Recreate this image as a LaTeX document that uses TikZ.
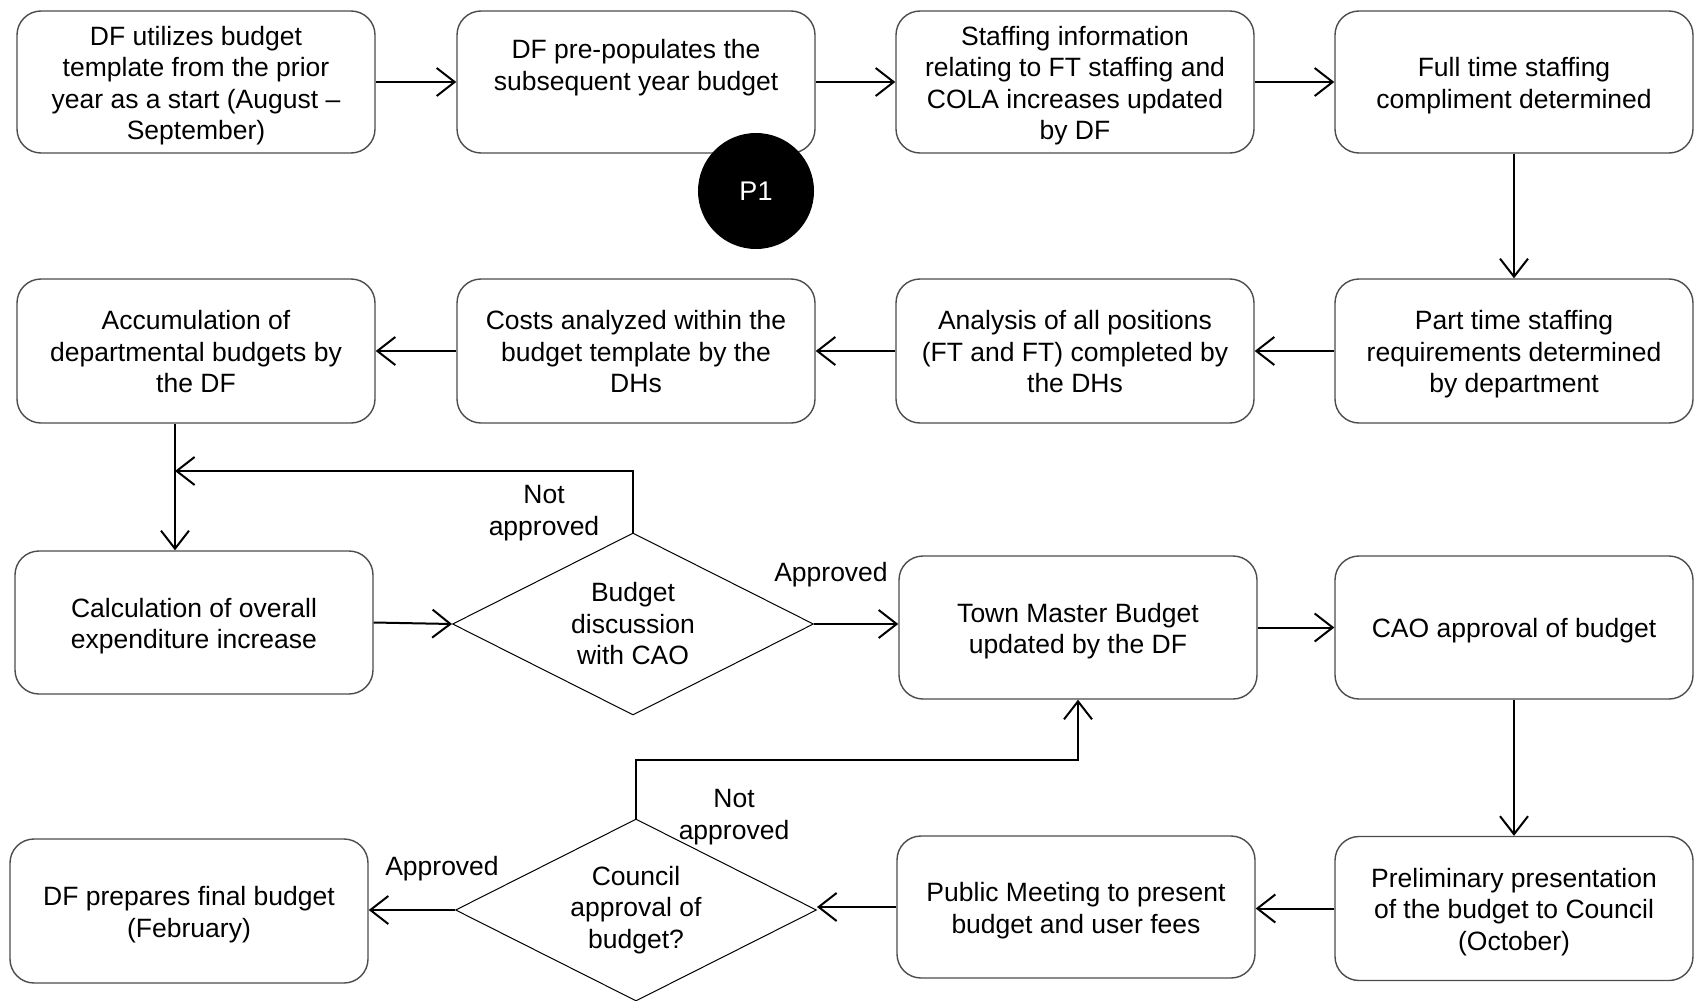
\documentclass[tikz,border=0pt]{standalone}
\usepackage{fontspec}
\setmainfont{Liberation Sans}
\usetikzlibrary{arrows.meta,shapes.geometric}
\newcommand{\bxt}[1]{\raisebox{-4pt}[\height][\depth]{\begin{tabular}{@{}c@{}}#1\end{tabular}}}
\begin{document}
\begin{tikzpicture}[x=1pt,y=-1pt,
  every node/.style={font=\fontsize{26.5}{31.5}\selectfont},
  box/.style={draw=black!70, line width=1.4pt, rounded corners=24pt, minimum width=358pt, minimum height=142pt, align=center, inner sep=0pt},
  dec/.style={draw=black, line width=1pt, diamond, shape aspect=2, minimum width=361pt, minimum height=182pt, align=center, inner sep=0pt},
  arr/.style={draw=black, line width=2pt, -{Straight Barb[length=18pt,width=28pt]}},
  lbl/.style={align=center, inner sep=0pt}
]
\useasboundingbox (0,0) rectangle (1695,1001);
% row 1
\node[box] (b1) at (196,82) {\bxt{DF utilizes budget\\template from the prior\\year as a start (August --\\September)}};
\node[box] (b2) at (636,82) {\bxt{DF pre-populates the\\subsequent year budget\\[4pt]\mbox{}}};
\node[box] (b3) at (1075,82) {\bxt{Staffing information\\relating to FT staffing and\\COLA increases updated\\by DF}};
\node[box] (b4) at (1514,82) {\bxt{Full time staffing\\compliment determined}};
\node[circle, fill=black, minimum size=116pt, inner sep=0pt, text=white, font=\fontsize{27}{31}\selectfont] (p1) at (756,191) {P1};
% row 2
\node[box, minimum height=144pt] (c4) at (1514,351) {\bxt{Part time staffing\\requirements determined\\by department}};
\node[box, minimum height=144pt] (c3) at (1075,351) {\bxt{Analysis of all positions\\(FT and FT) completed by\\the DHs}};
\node[box, minimum height=144pt] (c2) at (636,351) {\bxt{Costs analyzed within the\\budget template by the\\DHs}};
\node[box, minimum height=144pt] (c1) at (196,351) {\bxt{Accumulation of\\departmental budgets by\\the DF}};
% row 3
\node[box, minimum height=143pt] (d1) at (194,622.5) {\bxt{Calculation of overall\\expenditure increase}};
\node[dec] (q1) at (633,624) {Budget\\discussion\\with CAO};
\node[box, minimum height=143pt] (d3) at (1078,627.5) {\bxt{Town Master Budget\\updated by the DF}};
\node[box, minimum height=143pt] (d4) at (1514,627.5) {\bxt{CAO approval of budget}};
% row 4
\node[box, minimum height=144pt] (e4) at (1514,908.5) {\bxt{Preliminary presentation\\of the budget to Council\\(October)}};
\node[box, minimum height=142pt] (e3) at (1076,907) {\bxt{Public Meeting to present\\budget and user fees}};
\node[dec] (q2) at (636,910) {Council\\approval of\\budget?};
\node[box, minimum height=144pt] (e1) at (189,911) {\bxt{DF prepares final budget\\(February)}};
% labels
\node[lbl] (l1) at (544,513) {Not\\approved};
\node[lbl] (l2) at (831,575) {Approved};
\node[lbl] (l3) at (734,817) {Not\\approved};
\node[lbl] (l4) at (442,869) {Approved};
% connectors
\draw[arr] (b1.east) -- (b2.west);
\draw[arr] (b2.east) -- (b3.west);
\draw[arr] (b3.east) -- (b4.west);
\draw[arr] (b4.south) -- (c4.north);
\draw[arr] (c4.west) -- (c3.east);
\draw[arr] (c3.west) -- (c2.east);
\draw[arr] (c2.west) -- (c1.east);
\coordinate (fb) at (175,471);
\draw[arr] (c1.south -| fb) -- (d1.north -| fb);
\draw[arr] (q1.north) |- (fb);
\draw[arr] (d1.east) -- (q1.west);
\draw[arr] (q1.east) -- (q1.east -| d3.west);
\draw[arr] (d3.east) -- (d3.east -| d4.west);
\draw[arr] (d4.south) -- (e4.north);
\draw[arr] (e4.west) -- (e4.west -| e3.east);
\draw[arr] (e3.west) -- (e3.west -| q2.east);
\draw[arr] (q2.west) -- (q2.west -| e1.east);
\coordinate (cb) at (1078,760);
\draw[arr] (q2.north) |- (cb) -- (d3.south);
\end{tikzpicture}
\end{document}
